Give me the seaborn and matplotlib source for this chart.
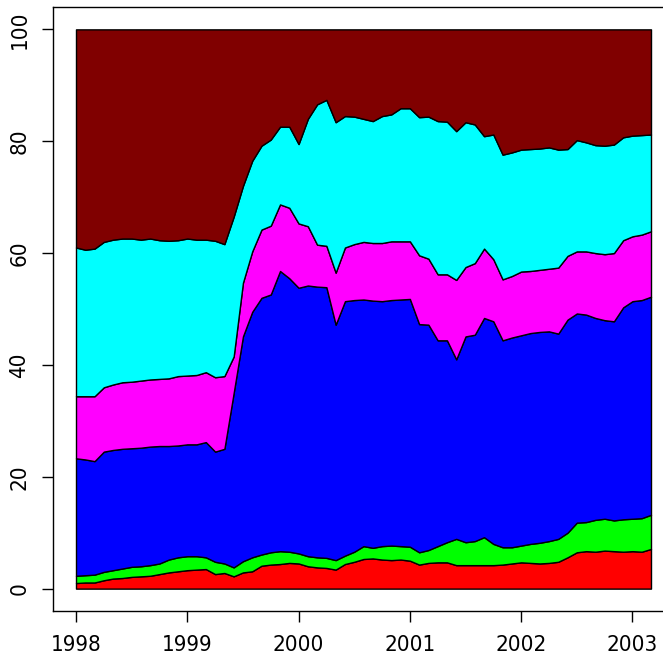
import numpy as np
import pandas as pd
import matplotlib
matplotlib.use('Agg')
import matplotlib.pyplot as plt
from matplotlib import font_manager
import seaborn as sns

# monthly shares (%), Jan 1998 - Mar 2003, bottom layer first
red = [1.0, 1.1, 1.1, 1.5, 1.8, 1.9, 2.1, 2.2, 2.3, 2.6, 2.9, 3.1,
       3.3, 3.4, 3.5, 2.6, 2.8, 2.2, 2.9, 3.1, 4.1, 4.3, 4.4, 4.6,
       4.5, 4.0, 3.8, 3.7, 3.4, 4.4, 4.8, 5.3, 5.4, 5.2, 5.1, 5.2,
       5.0, 4.3, 4.6, 4.7, 4.7, 4.2, 4.2, 4.2, 4.2, 4.2, 4.3, 4.5,
       4.7, 4.6, 4.5, 4.6, 4.8, 5.6, 6.5, 6.7, 6.6, 6.8, 6.7, 6.6,
       6.7, 6.6, 7.1]
green = [1.3, 1.3, 1.4, 1.5, 1.5, 1.7, 1.8, 1.8, 1.9, 1.9, 2.3, 2.5,
         2.5, 2.4, 2.1, 2.2, 1.7, 1.6, 2.0, 2.5, 2.0, 2.2, 2.3, 2.0,
         1.8, 1.8, 1.8, 1.8, 1.7, 1.5, 1.8, 2.3, 1.9, 2.4, 2.6, 2.4,
         2.5, 2.2, 2.3, 2.9, 3.6, 4.7, 4.1, 4.3, 5.0, 3.8, 3.1, 2.9,
         3.0, 3.4, 3.7, 3.9, 4.1, 4.4, 5.3, 5.2, 5.7, 5.7, 5.5, 5.8,
         5.8, 6.0, 6.1]
blue = [21.0, 20.7, 20.3, 21.5, 21.5, 21.4, 21.2, 21.2, 21.2, 21.0, 20.3, 20.0,
        20.0, 20.0, 20.6, 19.7, 20.5, 31.2, 40.2, 43.9, 45.9, 46.1, 50.1, 48.9,
        47.5, 48.4, 48.4, 48.4, 42.1, 45.5, 45.0, 44.1, 44.2, 43.8, 43.9, 44.1,
        44.3, 40.8, 40.3, 36.8, 36.1, 32.1, 36.8, 36.9, 39.2, 39.8, 37.0, 37.5,
        37.6, 37.7, 37.7, 37.5, 36.7, 38.1, 37.4, 37.1, 36.1, 35.5, 35.6, 37.9,
        38.9, 39.0, 39.0]
magenta = [11.1, 11.3, 11.6, 11.5, 11.7, 11.9, 11.9, 12.0, 12.0, 12.0, 12.1, 12.4,
           12.3, 12.4, 12.5, 13.3, 13.0, 6.5, 9.6, 10.8, 12.2, 12.3, 11.9, 12.6,
           11.5, 10.6, 7.5, 7.4, 9.3, 9.6, 10.0, 10.3, 10.3, 10.4, 10.5, 10.4,
           10.3, 12.3, 11.8, 11.8, 11.8, 14.2, 12.4, 12.8, 12.4, 11.1, 10.9, 11.0,
           11.4, 11.1, 11.1, 11.2, 11.8, 11.4, 11.1, 11.3, 11.6, 11.8, 12.2, 12.0,
           11.6, 11.7, 11.7]
cyan = [26.6, 26.2, 26.4, 26.0, 25.9, 25.7, 25.6, 25.2, 25.2, 24.8, 24.6, 24.3,
        24.5, 24.2, 23.7, 24.4, 23.6, 25.0, 17.3, 16.2, 15.0, 15.4, 13.9, 14.5,
        14.2, 19.2, 25.1, 26.1, 26.9, 23.5, 22.8, 22.0, 21.8, 22.7, 22.7, 23.8,
        23.8, 24.7, 25.4, 27.4, 27.3, 26.6, 25.9, 24.8, 20.1, 22.3, 22.3, 22.1,
        21.8, 21.8, 21.7, 21.7, 21.1, 19.1, 19.9, 19.5, 19.3, 19.4, 19.4, 18.4,
        18.0, 17.8, 17.3]
darkred = [39.0, 39.4, 39.2, 38.0, 37.6, 37.4, 37.4, 37.6, 37.4, 37.7, 37.8, 37.7,
           37.4, 37.6, 37.6, 37.8, 38.4, 33.5, 28.0, 23.5, 20.8, 19.7, 17.4, 17.4,
           20.5, 16.0, 13.4, 12.6, 16.6, 15.5, 15.6, 16.0, 16.4, 15.5, 15.2, 14.1,
           14.1, 15.7, 15.6, 16.4, 16.5, 18.2, 16.6, 17.0, 19.1, 18.8, 22.4, 22.0,
           21.5, 21.4, 21.3, 21.1, 21.5, 21.4, 19.8, 20.2, 20.7, 20.8, 20.6, 19.3,
           19.0, 18.9, 18.8]

layer_colors = ['#ff0000', '#00ff00', '#0000ff', '#ff00ff', '#00ffff', '#800000']
x_ticks = [1998, 1999, 2000, 2001, 2002, 2003]
y_ticks = [0, 20, 40, 60, 80, 100]

df = pd.DataFrame({'red': red, 'green': green, 'blue': blue,
                   'magenta': magenta, 'cyan': cyan, 'darkred': darkred})
df['time'] = 1998 + np.arange(len(df)) / 12.0

sns.set_theme(style='white')

# narrow font like the original R device, whatever is installed
fonts = font_manager.fontManager.ttflist
names = {f.name for f in fonts}
if 'Liberation Sans Narrow' in names:
    plt.rcParams['font.family'] = ['Liberation Sans Narrow', 'DejaVu Sans']
elif any(f.name == 'DejaVu Sans' and 'condensed' in str(f.stretch) for f in fonts):
    plt.rcParams['font.family'] = ['DejaVu Sans']
    plt.rcParams['font.stretch'] = 'condensed'
else:
    plt.rcParams['font.family'] = ['Liberation Sans', 'DejaVu Sans']

fig = plt.figure(figsize=(6.63, 6.56), dpi=100)
ax = fig.add_axes([53 / 663, 45 / 656, 621 / 663, 604 / 656])

ax.stackplot(df['time'], df[['red', 'green', 'blue', 'magenta', 'cyan', 'darkred']].T.values,
             colors=layer_colors, edgecolor='black', linewidth=1)

# R-like 4% padding on both axes
span = df['time'].iloc[-1] - df['time'].iloc[0]
ax.set_xlim(df['time'].iloc[0] - 0.04 * span, df['time'].iloc[-1] + 0.04 * span)
ax.set_ylim(-4, 104)
ax.set_xticks(x_ticks)
ax.set_yticks(y_ticks)
ax.set_xticklabels([str(v) for v in x_ticks])
ax.set_yticklabels([str(v) for v in y_ticks], rotation=90, va='center')
ax.tick_params(axis='both', direction='out', length=8, width=1, color='black',
               labelsize=16, labelcolor='black', pad=9)
ax.tick_params(axis='both', which='both', bottom=True, left=True)
for s in ax.spines.values():
    s.set_color('black')
    s.set_linewidth(1)
ax.grid(False)

fig.savefig('out.png', dpi=100)
